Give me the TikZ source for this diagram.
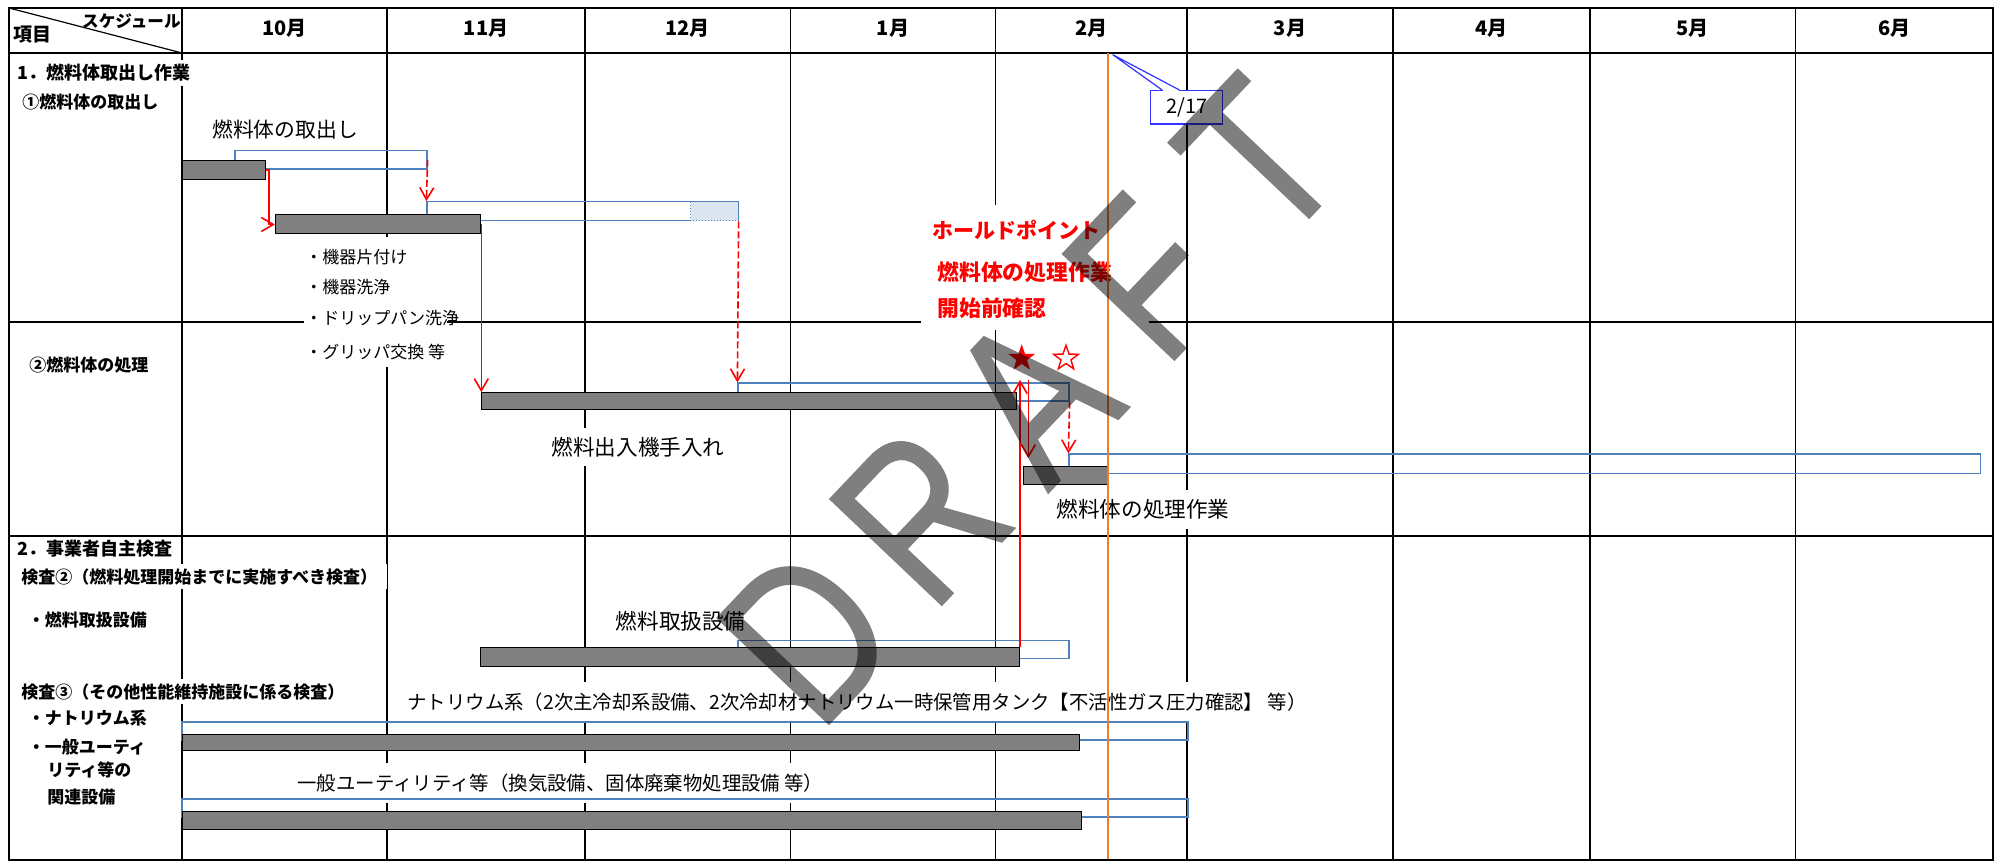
\documentclass[tikz,border=0pt]{standalone}
\usepackage{fontspec}
\setmainfont{Noto Sans CJK JP}
\newfontfamily\wmfont{Liberation Sans}[FakeBold=0.7]
\usepackage{graphicx}
\usetikzlibrary{arrows.meta,shapes.geometric,fit,calc}
\definecolor{planblue}{HTML}{4F81BD}
\definecolor{lightblue}{HTML}{DCE6F2}
\definecolor{bargray}{HTML}{808080}
\definecolor{orangeline}{HTML}{ED7D31}
\definecolor{callblue}{HTML}{3333FF}
\newcommand\jfs[1]{\fontsize{#1}{#1}\selectfont}
\newcommand\wml[1]{\makebox[82pt]{\scalebox{0.8}[1]{#1}}}
\begin{document}
\begin{tikzpicture}[x=0.5pt,y=-0.5pt,
  gridline/.style={line width=0.85pt, black},
  outerframe/.style={line width=1.3pt, black},
  plan/.style={draw=planblue, line width=0.6pt, inner sep=0pt},
  ganttbar/.style={draw=black, fill=bargray, line width=0.5pt, inner sep=0pt},
  month/.style={font=\bfseries\jfs{10}, inner sep=0pt},
  leftlab/.style={font=\bfseries\jfs{8.5}, anchor=west, inner xsep=5pt, inner ysep=2pt},
  coverlab/.style={leftlab, fill=white},
  rowlab/.style={font=\jfs{10.8}, fill=white, inner xsep=4pt, inner ysep=4.5pt},
  bulletlab/.style={font=\jfs{8.5}, anchor=west, inner sep=0pt},
  holdtxt/.style={font=\bfseries\jfs{10.9}, text=red, anchor=west, inner sep=0pt},
  redarrow/.style={draw=red, line width=0.8pt, -{Straight Barb[length=6pt,width=7pt]}},
  reddash/.style={redarrow, dash pattern=on 3.5pt off 1.5pt},
]
\useasboundingbox (0,0) rectangle (2008,865);
\fill[white] (0,0) rectangle (2008,865);

% grid
\foreach \gx in {182,387,585,790.6,995.5,1187,1393,1590,1795.5}
  \draw[gridline] (\gx,8) -- (\gx,860);
\draw[gridline] (9,322) -- (1993,322);
\draw[gridline] (9,536) -- (1993,536);
\draw[gridline, line width=1.1pt] (9,53) -- (1993,53);
\draw[line width=0.6pt] (9,8) -- (182,53);

% white text boxes
\fill[white] (304,237) rectangle (447,367);
\fill[white] (921,205) rectangle (1149,330);

% header
\node[font=\bfseries\jfs{9.5}, anchor=west, inner sep=0pt] (hdItem) at (13,35) {項目};
\node[font=\bfseries\jfs{8.3}, anchor=east, inner sep=0pt] (hdSched) at (181,21) {スケジュール};
\node[month] (m10) at (284.5,28) {10月};
\node[month] (m11) at (486,28) {11月};
\node[month] (m12) at (687.8,28) {12月};
\node[month] (m1) at (893,28) {1月};
\node[month] (m2) at (1091.3,28) {2月};
\node[month] (m3) at (1290,28) {3月};
\node[month] (m4) at (1491.5,28) {4月};
\node[month] (m5) at (1692.8,28) {5月};
\node[month] (m6) at (1894.3,28) {6月};

% left column labels
\node[coverlab, font=\bfseries\jfs{9}] (s1) at (7,73) {1．燃料体取出し作業};
\node[leftlab] (s1a) at (12,101.7) {①燃料体の取出し};
\node[leftlab] (s1b) at (19,365) {②燃料体の処理};
\node[leftlab, font=\bfseries\jfs{9}] (s2) at (7,549) {2．事業者自主検査};
\node[coverlab] (s2a) at (11,576.7) {検査②（燃料処理開始までに実施すべき検査）};
\node[leftlab] (s2a1) at (17.5,620) {・燃料取扱設備};
\node[coverlab] (s2b) at (11,691.7) {検査③（その他性能維持施設に係る検査）};
\node[leftlab] (s2b1) at (17.5,718) {・ナトリウム系};
\node[leftlab] (s2b2) at (17.5,746.7) {・一般ユーティ};
\node[leftlab] (s2b3) at (37,770) {リティ等の};
\node[leftlab] (s2b4) at (37,796.7) {関連設備};

% row labels
\node[rowlab, font=\jfs{10.4}] (lA) at (285,130) {燃料体の取出し};
\node[rowlab] (lC) at (638,447) {燃料出入機手入れ};
\node[rowlab] (lD) at (1143,509.5) {燃料体の処理作業};
\node[rowlab] (lE) at (680.6,621.5) {燃料取扱設備};
\node[rowlab, font=\jfs{9.7}, inner ysep=5.5pt] (lF) at (857,702) {ナトリウム系（2次主冷却系設備、2次冷却材ナトリウム一時保管用タンク【不活性ガス圧力確認】 等）};
\node[rowlab, font=\jfs{9.7}, inner ysep=5.5pt] (lG) at (560.5,783) {一般ユーティリティ等（換気設備、固体廃棄物処理設備 等）};

% bullets
\node[bulletlab] (b1) at (305,257) {・機器片付け};
\node[bulletlab] (b2) at (305,287) {・機器洗浄};
\node[bulletlab] (b3) at (305,318) {・ドリップパン洗浄};
\node[bulletlab] (b4) at (305,352) {・グリッパ交換 等};

% hold point text
\node[holdtxt, font=\bfseries\jfs{10.5}] (hold1) at (932,230) {ホールドポイント};
\node[holdtxt] (hold2) at (937,272) {燃料体の処理作業};
\node[holdtxt] (hold3) at (937,308) {開始前確認};

% planned (blue) and actual (gray) bars
\node[plan, fit={(235,150.7) (427,169)}] (planA) {};
\node[ganttbar, fit={(182,160.7) (265,179.3)}] (barA) {};
\node[plan, fit={(427,201.7) (738,220.7)}] (planB) {};
\filldraw[fill=lightblue, draw=planblue, densely dotted, line width=0.5pt] (690.5,201.7) rectangle (738,220.7);
\node[ganttbar, fit={(275.4,215) (480.8,234)}] (barB) {};
\node[plan, fit={(738,383) (1069,401)}] (planC) {};
\node[ganttbar, fit={(481,392.7) (1016,409.7)}] (barC) {};
\node[plan, fit={(1069,454) (1980.5,473.3)}] (planD) {};
\node[ganttbar, fit={(1023,466.7) (1108.5,484.3)}] (barD) {};
\node[plan, fit={(738,640.4) (1069,658.5)}] (planE) {};
\node[ganttbar, fit={(480,648) (1019.6,667)}] (barE) {};
\node[plan, fit={(182,722) (1188,740)}] (planF) {};
\node[ganttbar, fit={(182,734) (1079,750.7)}] (barF) {};
\node[plan, fit={(182,799) (1188,817)}] (planG) {};
\node[ganttbar, fit={(182,811) (1081.7,829)}] (barG) {};

% red arrows
\draw[redarrow] (barA.east) -- ++(3.3,0) |- (barB.west);
\draw[reddash] (planA.east) -- (planB.north west);
\draw[redarrow] (barB.east) -- (barB.east |- barC.north);
\draw[reddash] (planB.south east) -- (planC.north west);
\coordinate (hpUp) at (1018.3,380);
\coordinate (hpDn) at (1028.3,380);
\draw[redarrow] (barE.north east) -- (barE.north east |- hpUp);
\draw[redarrow] (hpDn) -- ($(hpDn |- barD.north)+(0,-8)$);
\draw[reddash] (planC.south east) -- (planD.north west);

% stars
\node[star, star points=5, star point ratio=2.5, fill=red, draw=red, line width=0.3pt, inner sep=0pt, minimum size=13pt] (starA) at (1021.7,358.3) {};
\node[star, star points=5, star point ratio=2.5, fill=white, draw=red, line width=0.7pt, inner sep=0pt, minimum size=13pt] (starB) at (1066,358.3) {};

% today line
\draw[orangeline, line width=0.9pt] (1107.6,53) -- (1107.6,860);

% 2/17 callout
\node[draw=callblue, fill=white, line width=0.6pt, minimum width=36pt, minimum height=16.7pt, inner sep=0pt, font=\jfs{10}] (d217) at (1186.7,107.3) {2/17};
\coordinate (calltip) at (1112.7,54.7);
\draw[white, line width=1pt] ($(d217.north west)+(12.8,0)$) -- ($(d217.north west)+(28.5,0)$);
\draw[callblue, line width=0.6pt] ($(d217.north west)+(12,0)$) -- (calltip) -- ($(d217.north west)+(29.3,0)$);

% outer frame
\draw[outerframe] (9,8) rectangle (1993,860);

% watermark
\begin{scope}[transparency group, opacity=0.5]
\node[rotate=46.5, anchor=base, inner sep=0pt, text=black, font=\wmfont\jfs{112}] (draft) at (1089,450) {\wml{D}\wml{R}\wml{A}\wml{F}\wml{T}};
\end{scope}
\end{tikzpicture}
\end{document}
